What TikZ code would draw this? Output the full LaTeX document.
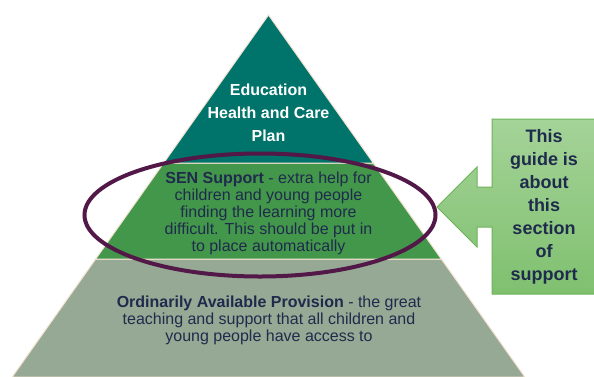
\documentclass[tikz,border=0pt]{standalone}
\usepackage{fontspec}
\setmainfont{Liberation Sans}
\usetikzlibrary{calc}
\definecolor{teal1}{HTML}{00736A}
\definecolor{green1}{HTML}{43974B}
\definecolor{grey1}{HTML}{96A994}
\definecolor{edge1}{HTML}{F6E2D2}
\definecolor{navy1}{HTML}{1F2B4C}
\definecolor{ring1}{HTML}{521847}
\definecolor{calltop}{HTML}{A5D398}
\definecolor{callbot}{HTML}{7FC06F}
\definecolor{calledge}{HTML}{6DB35A}
\tikzset{
  tier/.style={draw=edge1, line width=1pt},
  toptext/.style={align=center, text=white, font=\fontsize{16}{23}\selectfont\bfseries, inner sep=0pt},
  tiertext/.style={align=center, text=navy1, font=\fontsize{16}{17}\selectfont, inner sep=0pt},
  calltext/.style={align=center, text=navy1, font=\fontsize{18}{23}\selectfont\bfseries, inner sep=0pt},
}
\begin{document}
\begin{tikzpicture}[x=1pt,y=-1pt]
\useasboundingbox (0,0) rectangle (594,376);
\fill[white] (0,0) rectangle (594,376);
% tiers
\coordinate (apex) at (268.5,15);
\coordinate (l1) at (163.7,163); \coordinate (r1) at (373.3,163);
\coordinate (l2) at (95.7,259);  \coordinate (r2) at (441.3,259);
\coordinate (l3) at (12.9,376);  \coordinate (r3) at (524.1,376);
\begin{scope}
\clip (0,0) rectangle (594,376);
\filldraw[tier, fill=grey1] (l2) -- (r2) -- ($(r3)+(0.7,1)$) -- ($(l3)+(-0.7,1)$) -- cycle;
\filldraw[tier, fill=green1] (l1) -- (r1) -- (r2) -- (l2) -- cycle;
\filldraw[tier, fill=teal1] (apex) -- (r1) -- (l1) -- cycle;
\end{scope}
% texts
\node[toptext] (ehcp) at (268.5,112.5) {Education\\Health and Care\\Plan};
\node[tiertext] (sen) at (268.5,213.5) {\textbf{SEN Support} - extra help for\\children and young people\\finding the learning more\\difficult. This should be put in\\to place automatically};
\node[tiertext] (oap) at (269,320.5) {\textbf{Ordinarily Available Provision} - the great\\teaching and support that all children and\\young people have access to};
% ring
\draw[ring1, line width=4pt] (260,215) ellipse [x radius=175.5, y radius=61.5];
% callout
\shade[top color=calltop, bottom color=callbot, draw=calledge, line width=1pt]
  (595,119) -- (492,119) -- (492,187) -- (477,187) -- (477,167) -- (437,207)
  -- (477,247) -- (477,227) -- (492,227) -- (492,294) -- (595,294);
\node[calltext] (guide) at (544,206.5) {This\\guide is\\about\\this\\section\\of\\support};
\end{tikzpicture}
\end{document}
